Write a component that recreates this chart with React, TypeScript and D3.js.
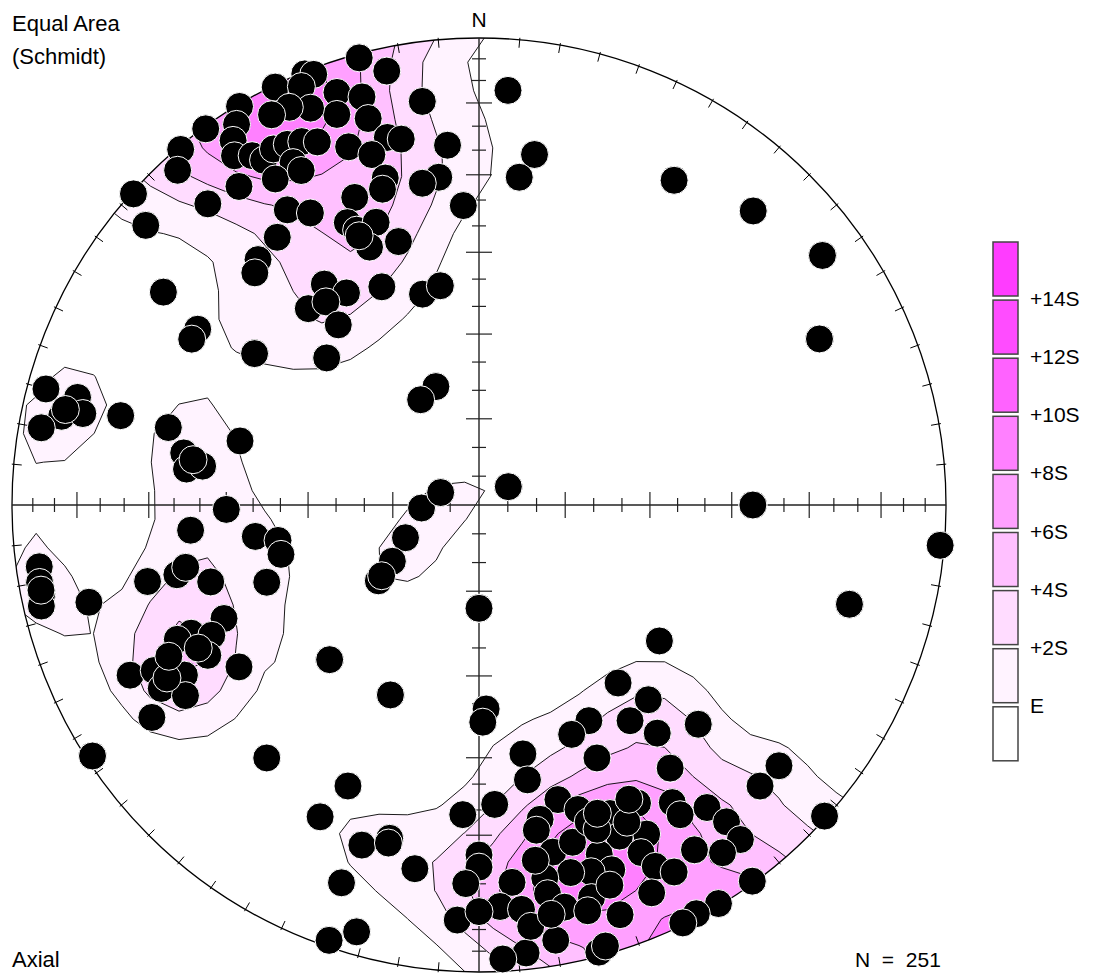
import * as d3 from "d3";

const northEastAxes: [number, number][] = [
  [4, 12], [9, 25], [7, 30], [31, 20], [43, 15], [54, 10], [64, 20], [90, 41], [58, 84],
  [95, 1], [105, 19], [340, 68], [331, 69], [288, 83], [357, 36],
];

const centralAxes: [number, number][] = [
  [267, 80], [246, 76], [237, 72], [233, 68], [234, 69],
];

const westAxes: [number, number][] = [
  [285, 4.5], [285, 12], [282, 9.5], [283, 14], [280, 5.4], [284, 22], [283, 10],
  [284, 32], [280, 36], [277, 37], [278, 40], [285, 46], [279, 38],
  [269, 45], [265, 38], [262, 50], [260, 54], [256, 54], [250, 50], [257, 28], [257, 34], [258, 36], [254, 40],
  [262, 5.5], [260, 5], [258.5, 5], [257, 4.3], [256, 15], [259, 5],
  [246, 40], [246, 33], [246, 30], [244, 36.5], [241, 34], [236, 38], [244, 18], [243, 23], [240, 22.5],
  [240, 28], [237, 26], [237, 17.6], [241, 24.6], [244, 27], [243, 33],
];

const southWestAxes: [number, number][] = [
  [224, 52], [205, 53], [180, 72], [220, 30], [237, 1.5], [205, 34], [207, 26], [199, 24], [195, 27],
  [195, 26], [190, 22], [200, 15], [199, 1.6], [196, 5.5], [178, 54], [179, 51.6],
];

const southEastAxes: [number, number][] = [
  [142, 50], [139, 44], [127, 50], [153, 47], [158, 46], [145, 43], [142, 38], [135, 34], [155, 40],
  [144, 31], [170, 45], [170, 40], [177, 36], [183, 34], [131, 16], [135, 16], [132, 0.5],
  [165, 35], [162, 32], [157, 29], [152, 28.5], [147, 25], [147, 22], [143, 20], [142, 15], [142, 10],
  [145, 10], [148, 14], [169, 32], [170, 30], [168, 25], [164.5, 26], [161, 29], [157, 24], [153, 22],
  [155, 19], [154, 15], [152, 12], [161, 22], [160, 18], [163, 19], [166, 20], [170, 20], [175, 20],
  [180, 26], [180, 23.5], [182, 20], [177, 15], [174, 14], [170, 16.6], [168, 13], [164, 13.6], [161, 15],
  [161, 8], [156, 10], [144, 0.5], [149, 0.5], [152, 1], [154, 0.5], [165, 1], [164, 2], [170, 6],
  [174, 4], [177, 3], [183, 12], [180, 14], [173, 10], [170, 12], [165, 11],
  [160, 27], [155, 26], [171, 24], [159, 30], [153, 30], [135, 34], [142, 38], [144, 31], [148, 14],
  [131, 16], [139, 44],
];

const northWestAxes: [number, number][] = [
  [345, 1], [348, 5.6], [338, 0.5], [339, 1.4], [334, 0.5], [329, 0.5], [324, 0.5], [320, 0.7], [318, 4],
  [312, 0.5], [310, 7.6],
  [341, 7.3], [344, 10], [340, 12], [344, 15], [337, 3], [337, 8.5], [334.5, 6.3], [332, 6], [327.5, 3.8],
  [326, 6.5], [325, 9.6], [327, 11.8], [328, 14], [330, 13], [332, 13.6], [334, 14.5], [336, 16],
  [331.5, 17.7], [328, 18.8], [332, 20],
  [346, 20], [348, 21], [340, 19.5], [343, 22.6], [344, 28], [343, 30], [338, 29.7], [335, 33.7],
  [336, 35.8], [340, 35.8], [337, 39.8], [343, 40.7], [336, 37],
  [352, 13.8], [355, 23.7], [353, 30], [350, 30.7], [327, 25.6], [330, 28.6], [323, 29], [318, 30],
  [316, 31.5], [325, 41.8], [328, 45.5], [319, 43.6], [323, 44.7], [322, 49.5], [336, 47.6], [345, 51.4],
  [350, 50.6], [304, 19.6], [302, 29.7], [300, 29.7], [304, 41.6], [314, 52.6], [323, 15.7], [318, 14.3],
];

// repeated readings hidden under a single marker
const stackedAxes: [number, number][] = [
  [31, 20], [31, 20], [43, 15], [54, 10], [64, 20], [64, 20], [90, 41], [90, 41],
  [58, 84], [58, 84], [105, 19], [105, 19], [180, 72], [180, 72], [224, 52], [224, 52], [205, 53],
  [237, 1.5], [4, 12], [288, 83], [314, 52.6], [304, 41.6], [135, 16],
];

const levelLabels = ["E", "+2S", "+4S", "+6S", "+8S", "+10S", "+12S", "+14S"];
const bandColors = ["#fff3ff", "#ffdcff", "#ffc0ff", "#ffa0ff", "#ff80ff", "#ff62ff", "#ff4cff", "#ff3cff"];

const W = 1104, H = 977;
const cx = 479, cy = 505, R = 467;
const rad = Math.PI / 180;
const font = "'Liberation Sans', Arial, sans-serif";

const axes = [
  ...northEastAxes, ...centralAxes, ...westAxes, ...southWestAxes,
  ...southEastAxes, ...northWestAxes, ...stackedAxes,
];

const xScale = d3.scaleLinear().domain([-1, 1]).range([cx - R, cx + R]);
const yScale = d3.scaleLinear().domain([-1, 1]).range([cy + R, cy - R]);

// lower hemisphere equal-area projection, primitive = 1
const schmidt = (trend: number, plunge: number): [number, number] => {
  const rho = Math.SQRT2 * Math.sin(((90 - plunge) * rad) / 2);
  return [rho * Math.sin(trend * rad), rho * Math.cos(trend * rad)];
};

// smoothed (exponential) Kamb counting for axial data, contours at E + 2k sigma
const N = axes.length;
const f = 2 * (1 + N / 9);
const E = N / f;
const sigma = Math.sqrt((N * (f / 2 - 1)) / (f * f));
const thresholds = levelLabels.map((_, k) => E + 2 * k * sigma);

const GRID = 34, EXT = 1.04, STEP = (2 * EXT) / GRID;
const vecs = axes.map(([t, pl]) => [
  Math.cos(pl * rad) * Math.sin(t * rad),
  Math.cos(pl * rad) * Math.cos(t * rad),
  Math.sin(pl * rad),
]);
const counts: number[] = [];
for (let j = 0; j < GRID; j++) {
  for (let i = 0; i < GRID; i++) {
    const x = -EXT + (i + 0.5) * STEP;
    const y = EXT - (j + 0.5) * STEP;
    const r = Math.min(Math.hypot(x, y), 1);
    const th = 2 * Math.asin(r / Math.SQRT2);
    const az = Math.atan2(x, y);
    const g0 = Math.sin(th) * Math.sin(az), g1 = Math.sin(th) * Math.cos(az), g2 = Math.cos(th);
    let c = 0;
    for (const v of vecs) c += Math.exp(f * (Math.abs(v[0] * g0 + v[1] * g1 + v[2] * g2) - 1));
    counts.push(c);
  }
}
const bands = d3.contours().size([GRID, GRID]).thresholds(thresholds)(counts);
const gridPath = d3.geoPath(d3.geoIdentity().scale(STEP * R).translate([cx - EXT * R, cy - EXT * R]));

const axisTicks: { x1: number; y1: number; x2: number; y2: number }[] = [];
[0, 90, 180, 270].forEach((az) => {
  d3.range(5, 90, 5).forEach((pl) => {
    const [nx, ny] = schmidt(az, pl);
    const px = xScale(nx), py = yScale(ny);
    const h = pl % 15 === 0 ? 13 : 7;
    if (az % 180 === 0) axisTicks.push({ x1: px - h, y1: py, x2: px + h, y2: py });
    else axisTicks.push({ x1: px, y1: py - h, x2: px, y2: py + h });
  });
});

const rimTicks = d3.range(5, 360, 5).filter((a) => a % 90 !== 0).map((a) => {
  const s = Math.sin(a * rad), c = Math.cos(a * rad);
  return { x1: cx + (R - 8) * s, y1: cy - (R - 8) * c, x2: cx + (R + 2) * s, y2: cy - (R + 2) * c };
});

const legendTop = 242, legendPitch = 58.1, legendBox = 54;
const legendColors = [...bandColors].reverse().concat(["#ffffff"]);

export default function App() {
  return (
    <div style={{ position: "absolute", left: 0, top: 0 }}>
      <svg width={W} height={H} fontFamily={font}>
        <defs>
          <clipPath id="net">
            <circle cx={cx} cy={cy} r={R} />
          </clipPath>
        </defs>
        <rect width={W} height={H} fill="#fff" />
        <g clipPath="url(#net)">
          {bands.map((b, k) => (
            <path key={k} d={gridPath(b as any) || ""} fill={bandColors[k]} stroke="#000" strokeWidth={0.9} strokeLinejoin="round" />
          ))}
        </g>
        <circle cx={cx} cy={cy} r={R} fill="none" stroke="#000" strokeWidth={1.3} />
        <line x1={cx - R} x2={cx + R} y1={cy} y2={cy} stroke="#222" strokeWidth={1.4} />
        <line x1={cx} x2={cx} y1={cy - R} y2={cy + R} stroke="#222" strokeWidth={1.4} />
        {axisTicks.map((t, i) => (
          <line key={"a" + i} {...t} stroke="#222" strokeWidth={1.2} />
        ))}
        {rimTicks.map((t, i) => (
          <line key={"r" + i} {...t} stroke="#000" strokeWidth={1} />
        ))}
        {axes.map(([t, pl], i) => {
          const [nx, ny] = schmidt(t, pl);
          return <circle key={"p" + i} cx={xScale(nx)} cy={yScale(ny)} r={14} fill="#000" stroke="#fff" strokeWidth={1} />;
        })}
        <text x={cx} y={27} textAnchor="middle" fontSize={21}>N</text>
        <text x={12} y={31} fontSize={22}>Equal Area</text>
        <text x={12} y={64} fontSize={22}>(Schmidt)</text>
        <text x={12} y={967} fontSize={22}>Axial</text>
        <text x={855} y={967} fontSize={21} style={{ whiteSpace: "pre" }}>{`N  =  ${N}`}</text>
        {legendColors.map((c, k) => (
          <rect key={"l" + k} x={993} y={legendTop + k * legendPitch} width={25} height={legendBox} fill={c} stroke="#444" strokeWidth={1.5} />
        ))}
        {levelLabels.map((_, k) => (
          <text key={"t" + k} x={1030} y={legendTop + (k + 1) * legendPitch - 2 + 8} fontSize={21}>
            {levelLabels[levelLabels.length - 1 - k]}
          </text>
        ))}
      </svg>
    </div>
  );
}
